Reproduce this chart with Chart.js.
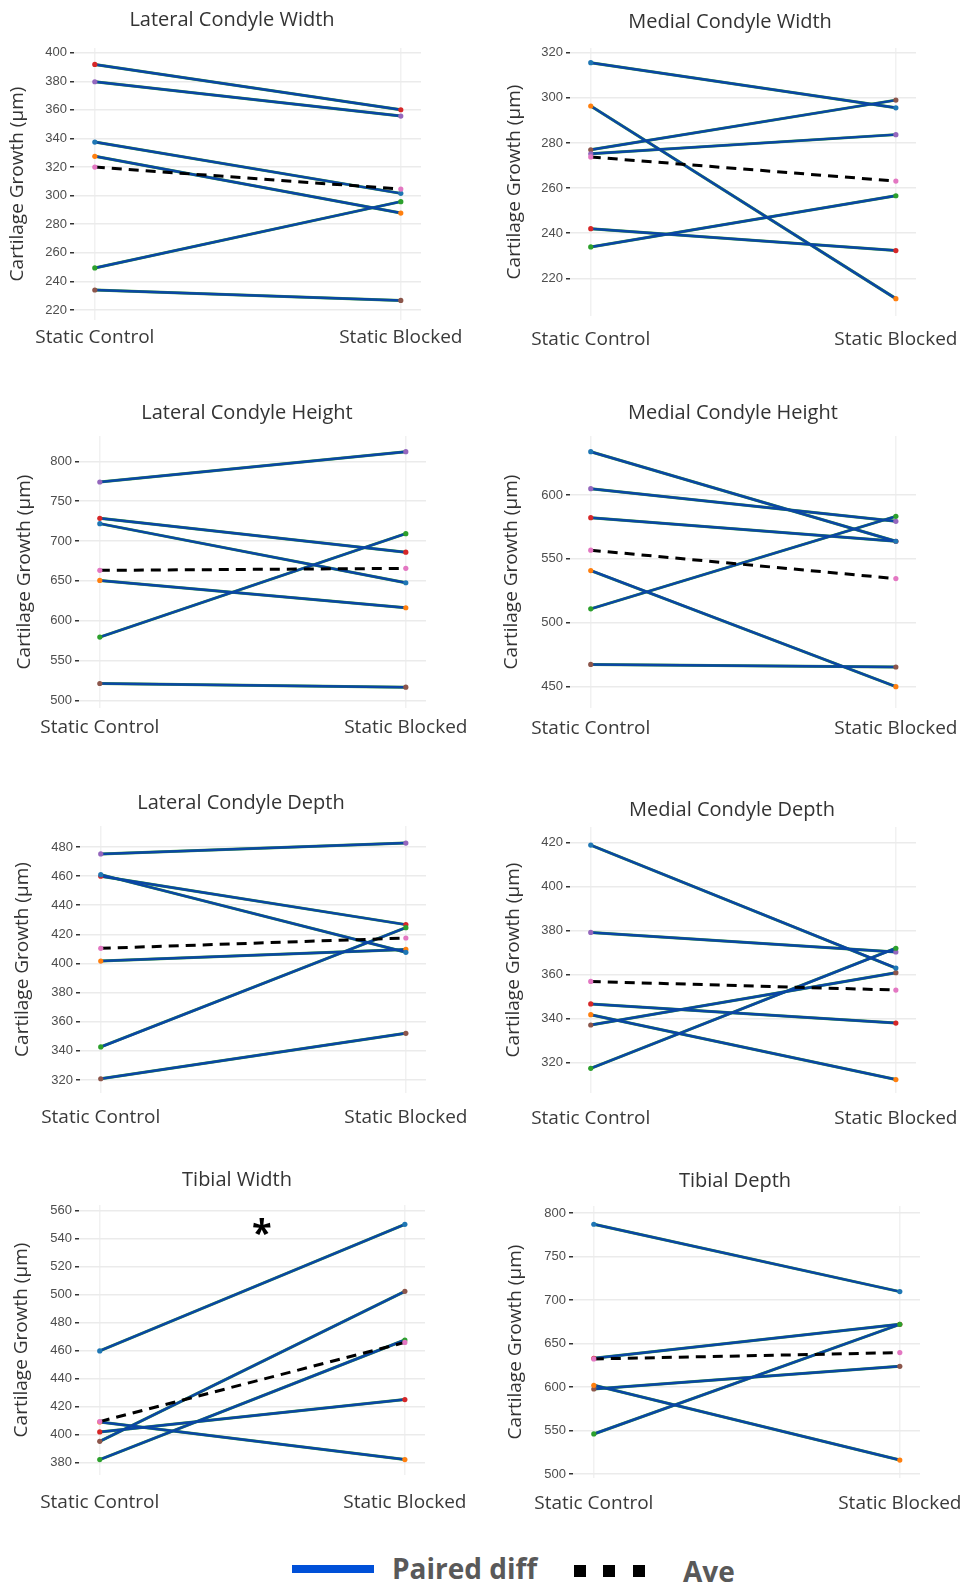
<!DOCTYPE html>
<html>
<head>
<meta charset="utf-8">
<script src="https://cdn.jsdelivr.net/npm/chart.js@4.4.1/dist/chart.umd.min.js"></script>
<style>
  html, body { margin: 0; padding: 0; background: #fff; overflow: hidden; }
  #page { position: relative; width: 963px; height: 1584px; }
  #page canvas { position: absolute; }
  .ptitle { position: absolute; width: 400px; text-align: center; font: 20px 'Open Sans', sans-serif; line-height: 24px; color: #333; white-space: nowrap; }
  .star { position: absolute; font: bold 36px 'Open Sans', sans-serif; line-height: 36px; color: #000; }
  .lg-text { position: absolute; font: bold 28px 'Open Sans', sans-serif; line-height: 28px; color: #595959; white-space: nowrap; }
  .lg-bar { position: absolute; background: #0050d8; }
  .lg-sq { position: absolute; width: 12px; height: 12px; background: #000; }
</style>
</head>
<body>
<div id="page"></div>
<script>
// --- DATA ---
const groups = ['Static Control', 'Static Blocked'];
const mice = ['M1', 'M2', 'M3', 'M4', 'M5', 'M6'];

// Lateral Condyle Width
const lcwControl = [337.5, 327.5, 249.4, 391.8, 379.7, 234.0];
const lcwBlocked = [301.6, 287.8, 295.8, 360.1, 355.7, 226.7];
const lcwAve = [320.0, 304.6];

// Medial Condyle Width
const mcwControl = [315.6, 296.4, 233.9, 242.0, 275.2, 277.0];
const mcwBlocked = [295.6, 211.0, 256.6, 232.3, 283.7, 299.0];
const mcwAve = [273.8, 263.1];

// Lateral Condyle Height
const lchControl = [721.8, 650.6, 579.5, 728.5, 774.0, 521.3];
const lchBlocked = [647.7, 616.3, 709.2, 686.0, 812.0, 516.7];
const lchAve = [663.2, 665.7];

// Medial Condyle Height
const mchControl = [633.9, 540.9, 510.9, 582.3, 605.0, 467.4];
const mchBlocked = [563.8, 450.0, 583.3, 563.8, 579.4, 465.4];
const mchAve = [556.8, 534.6];

// Lateral Condyle Depth
const lcdControl = [461.0, 401.7, 342.7, 459.9, 475.2, 320.9];
const lcdBlocked = [407.7, 409.7, 424.6, 426.7, 482.7, 352.1];
const lcdAve = [410.4, 417.5];

// Medial Condyle Depth
const mcdControl = [418.8, 341.7, 317.3, 346.6, 379.1, 337.0];
const mcdBlocked = [362.9, 312.2, 371.9, 337.9, 370.2, 360.8];
const mcdAve = [356.8, 352.9];

// Tibial Width (no M5)
const twControl = [459.7, 409.0, 382.2, 401.9, null, 395.2];
const twBlocked = [550.0, 382.2, 467.5, 425.0, null, 502.2];
const twAve = [409.3, 465.8];

// Tibial Depth (no M5)
const tdControl = [787.0, 601.9, 546.0, 633.0, null, 597.7];
const tdBlocked = [709.6, 516.0, 672.0, 672.0, null, 623.8];
const tdAve = [632.2, 639.5];

// --- PANELS: data + axis range ---
const panels = [
    { title: 'Lateral Condyle Width',  control: lcwControl, blocked: lcwBlocked, ave: lcwAve, step: 20, yMin: 213.0, yMax: 403.3 },
    { title: 'Medial Condyle Width',   control: mcwControl, blocked: mcwBlocked, ave: mcwAve, step: 20, yMin: 203.3, yMax: 322.1 },
    { title: 'Lateral Condyle Height', control: lchControl, blocked: lchBlocked, ave: lchAve, step: 50, yMin: 490.6, yMax: 831.7 },
    { title: 'Medial Condyle Height',  control: mchControl, blocked: mchBlocked, ave: mchAve, step: 50, yMin: 433.3, yMax: 646.2 },
    { title: 'Lateral Condyle Depth',  control: lcdControl, blocked: lcdBlocked, ave: lcdAve, step: 20, yMin: 311.1, yMax: 494.4 },
    { title: 'Medial Condyle Depth',   control: mcdControl, blocked: mcdBlocked, ave: mcdAve, step: 20, yMin: 306.1, yMax: 427.0 },
    { title: 'Tibial Width',           control: twControl,  blocked: twBlocked,  ave: twAve,  step: 20, yMin: 371.2, yMax: 563.8 },
    { title: 'Tibial Depth',           control: tdControl,  blocked: tdBlocked,  ave: tdAve,  step: 50, yMin: 495.4, yMax: 808.0 }
];

// --- LAYOUT: canvas box + plot area, page px ---
const boxes = [
    { x: 0,   y: 0,    w: 481, h: 360, l: 74,  r: 421, t: 48,   b: 320,  tx: 232,   ty: 19,   yt: 18,  xl: 338 },
    { x: 481, y: 0,    w: 482, h: 360, l: 570, r: 916, t: 48,   b: 316,  tx: 730,   ty: 21,   yt: 515, xl: 340 },
    { x: 0,   y: 360,  w: 481, h: 390, l: 79,  r: 426, t: 436,  b: 708,  tx: 247,   ty: 412,  yt: 25,  xl: 728 },
    { x: 481, y: 360,  w: 482, h: 390, l: 570, r: 916, t: 436,  b: 708,  tx: 733,   ty: 412,  yt: 512, xl: 729 },
    { x: 0,   y: 750,  w: 481, h: 390, l: 80,  r: 426, t: 826,  b: 1093, tx: 241,   ty: 802,  yt: 23,  xl: 1118 },
    { x: 481, y: 750,  w: 482, h: 390, l: 570, r: 916, t: 827,  b: 1093, tx: 732,   ty: 809,  yt: 514, xl: 1119 },
    { x: 0,   y: 1140, w: 481, h: 385, l: 79,  r: 425, t: 1205, b: 1475, tx: 237,   ty: 1179, yt: 22,  xl: 1503 },
    { x: 481, y: 1140, w: 482, h: 385, l: 573, r: 920, t: 1206, b: 1478, tx: 735,   ty: 1180, yt: 516, xl: 1504 }
];

// --- STYLES ---
const mouseColors = { M1: '#1f77b4', M2: '#ff7f0e', M3: '#2ca02c', M4: '#d62728', M5: '#9467bd', M6: '#8c564b' };
const aveColor = '#e377c2';
const lineColor = '#0a46a5';
const edgeColor = '#3c9c3c';

Chart.defaults.font.family = "'Open Sans', sans-serif";
const page = document.getElementById('page');

function makePanel(p, box) {
    const cv = document.createElement('canvas');
    cv.width = box.w;
    cv.height = box.h;
    cv.style.left = box.x + 'px';
    cv.style.top = box.y + 'px';
    cv.style.width = box.w + 'px';
    cv.style.height = box.h + 'px';
    page.appendChild(cv);

    const title = document.createElement('div');
    title.className = 'ptitle';
    title.textContent = p.title;
    title.style.left = (box.tx - 200) + 'px';
    title.style.top = (box.ty - 12) + 'px';
    page.appendChild(title);

    // average first so it is drawn on top
    const datasets = [{
        data: [{ x: 0, y: p.ave[0] }, { x: 1, y: p.ave[1] }],
        borderColor: '#000',
        borderWidth: 3,
        borderDash: [10, 7],
        pointRadius: 2.6,
        pointBorderWidth: 0,
        pointBackgroundColor: aveColor,
        order: 0
    }];
    mice.forEach((m, i) => {
        if (p.control[i] == null) return;
        const pts = [{ x: 0, y: p.control[i] }, { x: 1, y: p.blocked[i] }];
        datasets.push({
            data: pts, borderColor: lineColor, borderWidth: 2.5,
            pointRadius: 2.6, pointBorderWidth: 0, pointBackgroundColor: mouseColors[m], order: 1
        });
        // thin green rim under each paired line
        datasets.push({ data: pts, borderColor: edgeColor, borderWidth: 3.0, pointRadius: 0, order: 2 });
    });

    return new Chart(cv.getContext('2d'), {
        type: 'line',
        data: { datasets },
        options: {
            responsive: false,
            animation: false,
            layout: { padding: { left: 0, right: box.x + box.w - box.r, top: box.t - box.y, bottom: 0 } },
            plugins: { legend: { display: false }, tooltip: { enabled: false } },
            scales: {
                x: {
                    type: 'linear',
                    min: -0.068,
                    max: 1.066,
                    afterBuildTicks: (s) => { s.ticks = [{ value: 0 }, { value: 1 }]; },
                    ticks: {
                        callback: (v) => groups[v],
                        font: { size: 19 },
                        color: '#3a3a3a',
                        padding: box.xl - box.b - 11.4,
                        maxRotation: 0,
                        autoSkip: false
                    },
                    grid: { color: '#f1f1f1', lineWidth: 1.5, drawTicks: false },
                    border: { display: false },
                    afterFit: (s) => { s.height = box.y + box.h - box.b; s.paddingLeft = 0; s.paddingRight = 0; }
                },
                y: {
                    min: p.yMin,
                    max: p.yMax,
                    ticks: {
                        stepSize: p.step,
                        includeBounds: false,
                        font: { family: "'Liberation Sans', Arial, sans-serif", size: 13 },
                        color: '#4d4d4d',
                        padding: 3
                    },
                    grid: { color: '#ebebeb', lineWidth: 1.5, tickLength: 4, tickColor: '#333', tickWidth: 1.5 },
                    border: { display: false },
                    title: {
                        display: true,
                        text: 'Cartilage Growth (µm)',
                        font: { size: 19 },
                        color: '#333',
                        padding: { top: box.yt - box.x - 11.4, bottom: 0 }
                    },
                    afterFit: (s) => { s.width = box.l - box.x; s.paddingTop = 0; s.paddingBottom = 0; }
                }
            }
        }
    });
}

panels.forEach((p, i) => makePanel(p, boxes[i]));

// --- SIGNIFICANCE MARK (Tibial Width) ---
const star = document.createElement('div');
star.className = 'star';
star.textContent = '*';
star.style.left = '252px';
star.style.top = '1214px';
page.appendChild(star);

// --- LEGEND ---
const bar = document.createElement('div');
bar.className = 'lg-bar';
Object.assign(bar.style, { left: '292px', top: '1565px', width: '82px', height: '8px' });
page.appendChild(bar);

[['Paired diff', 392, 1554], ['Ave', 683, 1557]].forEach(([txt, left, top]) => {
    const el = document.createElement('div');
    el.className = 'lg-text';
    el.textContent = txt;
    el.style.left = left + 'px';
    el.style.top = top + 'px';
    page.appendChild(el);
});

[574, 603, 633].forEach((left) => {
    const sq = document.createElement('div');
    sq.className = 'lg-sq';
    sq.style.left = left + 'px';
    sq.style.top = '1565px';
    page.appendChild(sq);
});
</script>
</body>
</html>
